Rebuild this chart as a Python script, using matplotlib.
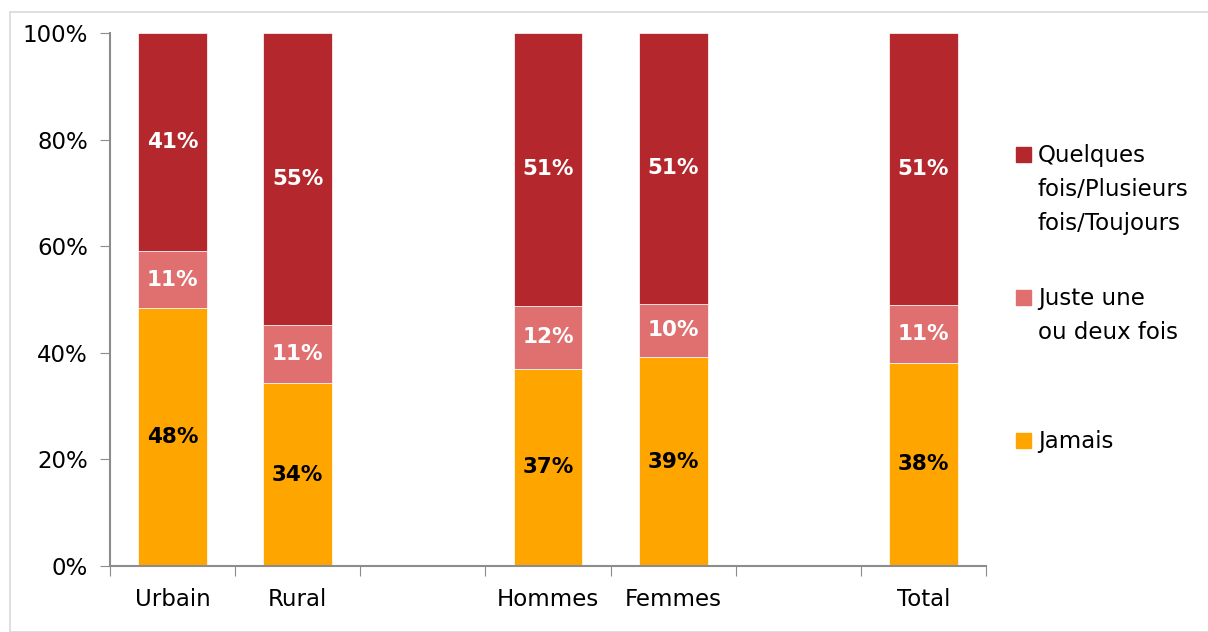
import matplotlib.pyplot as plt
from matplotlib.patches import Rectangle
import numpy as np

# data (share of respondents, %)
categories = ['Urbain', 'Rural', '', 'Hommes', 'Femmes', '', 'Total']
jamais = [48.4, 34.3, 0, 37.0, 39.2, 0, 38.1]
juste = [10.7, 10.9, 0, 11.8, 10.0, 0, 10.9]
quelques = [40.9, 54.8, 0, 51.2, 50.8, 0, 51.0]
series_names = ['Jamais', 'Juste une\nou deux fois', 'Quelques\nfois/Plusieurs\nfois/Toujours']

colors = ['#FFA500', '#E07070', '#B3272D']
label_colors = ['black', 'white', 'white']

plt.rcParams['font.family'] = ['DejaVu Sans']

fig = plt.figure(figsize=(12.08, 6.32), dpi=100)
ax = fig.add_axes([110 / 1208, 1 - 566 / 632, 876 / 1208, 533 / 632])

x = np.arange(len(categories))
bottom = np.zeros(len(categories))
for vals, col, lc in zip([jamais, juste, quelques], colors, label_colors):
    vals = np.array(vals)
    ax.bar(x, vals, 0.55, bottom=bottom, color=col, edgecolor='white', linewidth=0.5)
    for xi, v, b in zip(x, vals, bottom):
        if v > 0:
            ax.text(xi, b + v / 2, f'{v:.0f}%', ha='center', va='center',
                    color=lc, fontsize=15.5, fontweight='bold')
    bottom += vals

ax.set_xlim(-0.5, len(categories) - 0.5)
ax.set_ylim(0, 100)
ax.set_yticks(np.arange(0, 101, 20))
ax.set_yticklabels([f'{t}%' for t in range(0, 101, 20)])
ax.set_xticks(np.arange(-0.5, len(categories), 1))
ax.set_xticklabels([])
ax.set_xticks(x, minor=True)
ax.set_xticklabels(categories, minor=True)
ax.tick_params(axis='x', which='minor', length=0, pad=16, labelsize=16.5)
ax.tick_params(axis='x', which='major', length=7, color='#8c8c8c', direction='out')
ax.tick_params(axis='y', length=7, color='#8c8c8c', labelsize=16.5, pad=9)

for s in ['top', 'right']:
    ax.spines[s].set_visible(False)
for s in ['left', 'bottom']:
    ax.spines[s].set_color('#8c8c8c')
    ax.spines[s].set_linewidth(1.5)

# legend drawn by hand so the square lines up with the first text line
legend_y = [441, 298, 155]
for name, col, yy in zip(series_names, colors, legend_y):
    fy = 1 - yy / 632
    fig.patches.append(Rectangle((1016 / 1208, fy - 7 / 632), 15 / 1208, 15 / 632,
                                 transform=fig.transFigure, color=col))
    fig.text(1038 / 1208, fy + 11 / 632, name, ha='left', va='top',
             fontsize=16.5, linespacing=1.6)

# light frame around the chart
fig.patches.append(Rectangle((10 / 1208, 0), 1.2, 1 - 12 / 632, transform=fig.transFigure,
                             fill=False, edgecolor='#d9d9d9', linewidth=1.2))

fig.savefig('out.png', dpi=100)
